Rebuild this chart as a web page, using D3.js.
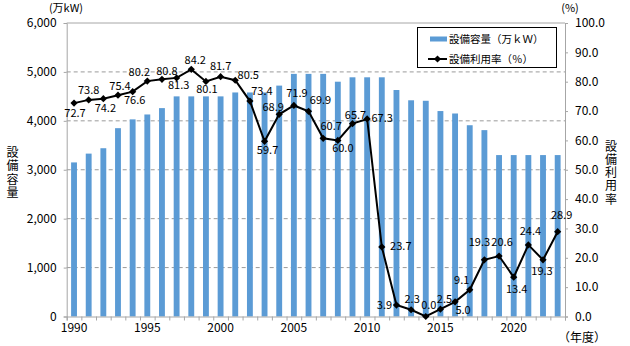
<!DOCTYPE html>
<html><head><meta charset="utf-8">
<script src="https://cdn.jsdelivr.net/npm/d3@7"></script>
<style>
body{margin:0;background:#fff;}
svg{display:block;font-family:"Noto Sans CJK JP","Noto Sans",sans-serif;}
</style></head>
<body><svg id="c" width="630" height="346"></svg>
<script>
const years = d3.range(1990, 2024);
const capacity = [3150,3330,3440,3850,4030,4130,4260,4500,4500,4500,4500,4580,4580,4580,4720,4960,4960,4960,4800,4890,4890,4890,4630,4420,4410,4200,4150,3910,3810,3300,3300,3300,3300,3300];
const rate = [72.7,73.8,74.2,75.4,76.6,80.2,80.8,81.3,84.2,80.1,81.7,80.5,73.4,59.7,68.9,71.9,69.9,60.7,60.0,65.7,67.3,23.7,3.9,2.3,0.0,2.5,5.0,9.1,19.3,20.6,13.4,24.4,19.3,28.9];
const leftTicks = [0,1000,2000,3000,4000,5000,6000];
const rightTicks = [0,10,20,30,40,50,60,70,80,90,100];
const xLabels = [1990,1995,2000,2005,2010,2015,2020];
const legendLabels = ["設備容量（万ｋＷ）","設備利用率（％）"];
const leftTitle = "設備容量";
const rightTitle = "設備利用率";
// label placement offsets (dx, dy) per point
const labelOffsets = [[1,11],[0,-9],[2,10],[2,-8],[2,9],[-8,-8],[5,-7],[2,8],[4,-8],[1,9],[0,-10],[13,-4],[12,-9],[3,10],[-6,-6],[3,-11],[12,-10],[8,-11],[5,9],[3,-8],[15,0],[19,0],[-12,1],[1,-10],[3,-10],[4,-9],[8,9],[-8,-9],[-5,-17],[3,-13],[3,13],[2,-13],[-1,12],[4,-16]];

const L = 66.7, R = 565, T = 23, B = 316.5;
const svg = d3.select("#c");
const x = d3.scaleBand().domain(years).range([L, R]).padding(0);
const xl = d3.scaleLinear().domain([1989.5, 2023.5]).range([L, R]);
const yL = d3.scaleLinear().domain([0, 6000]).range([B, T]);
const yR = d3.scaleLinear().domain([0, 100]).range([B, T]);
const gray = "#a6a6a6";

// gridlines
svg.append("g").selectAll("line").data(leftTicks.filter(d => d > 0 && d < 6000)).join("line")
  .attr("x1", L).attr("x2", R).attr("y1", d => yL(d)).attr("y2", d => yL(d))
  .attr("stroke", "#9a9a9a").attr("stroke-dasharray", "4,3").attr("stroke-width", 1);
svg.append("line").attr("x1", L).attr("x2", R).attr("y1", T).attr("y2", T).attr("stroke", gray);

// bars
const bw = x.bandwidth() * 0.4;
svg.append("g").selectAll("rect").data(years).join("rect")
  .attr("x", (d) => x(d) + (x.bandwidth() - bw) / 2)
  .attr("y", (d, i) => yL(capacity[i]))
  .attr("width", bw)
  .attr("height", (d, i) => B - yL(capacity[i]))
  .attr("fill", "#5b9bd5");

// axes
const axL = svg.append("g").attr("transform", `translate(${L},0)`)
  .call(d3.axisLeft(yL).tickValues(leftTicks).tickFormat(d3.format(",")).tickSize(3).tickPadding(7));
const axR = svg.append("g").attr("transform", `translate(${R},0)`)
  .call(d3.axisRight(yR).tickValues(rightTicks).tickFormat(d3.format(".1f")).tickSize(3).tickPadding(7));
const axB = svg.append("g").attr("transform", `translate(0,${B})`)
  .call(d3.axisBottom(xl).tickValues(d3.range(1989.5, 2024, 1)).tickFormat("").tickSize(4));
const axBL = svg.append("g").attr("transform", `translate(0,${B})`)
  .call(d3.axisBottom(x).tickValues(xLabels).tickSize(0).tickPadding(7));
axBL.select(".domain").remove();
[axL, axR, axB].forEach(a => { a.select(".domain").attr("stroke", gray); a.selectAll(".tick line").attr("stroke", gray); });
[axL, axR, axBL].forEach(a => a.selectAll("text").attr("fill", "#000").attr("font-size", 12)
  .attr("font-family", "'Noto Sans CJK JP',sans-serif"));

// line
const cx = (d, i) => x(years[i]) + x.bandwidth() / 2;
svg.append("path").datum(rate)
  .attr("d", d3.line().x((d, i) => cx(d, i)).y(d => yR(d)))
  .attr("fill", "none").attr("stroke", "#000").attr("stroke-width", 2);
const diamond = d3.symbol().type(d3.symbolSquare).size(26);
svg.append("g").selectAll("path").data(rate).join("path")
  .attr("d", diamond)
  .attr("transform", (d, i) => `translate(${cx(d, i)},${yR(d)}) rotate(45)`)
  .attr("fill", "#000");

// data labels
svg.append("g").selectAll("text").data(rate).join("text")
  .attr("x", (d, i) => cx(d, i) + labelOffsets[i][0])
  .attr("y", (d, i) => yR(d) + labelOffsets[i][1])
  .attr("text-anchor", "middle").attr("dominant-baseline", "middle")
  .attr("font-size", 11).attr("fill", "#000")
  .text(d => d3.format(".1f")(d));

// unit labels
svg.append("text").attr("x", 66).attr("y", 12).attr("text-anchor", "middle")
  .attr("font-size", 11).text("(万kW)");
svg.append("text").attr("x", 570).attr("y", 12).attr("text-anchor", "middle")
  .attr("font-size", 11).text("(%)");
svg.append("text").attr("x", 582).attr("y", 342).attr("text-anchor", "middle")
  .attr("font-size", 12).text("（年度）");

// vertical titles
const vt = (str, xPos, yTop) => {
  svg.append("text").attr("x", xPos).attr("y", yTop)
    .attr("writing-mode", "vertical-rl").style("writing-mode", "vertical-rl")
    .attr("text-anchor", "start").attr("font-size", 12).attr("letter-spacing", 1.3)
    .text(str);
};
vt(leftTitle, 12.5, 146.5);
vt(rightTitle, 611, 140);

// legend
const lg = svg.append("g");
lg.append("rect").attr("x", 417.5).attr("y", 27.5).attr("width", 139).attr("height", 40)
  .attr("fill", "#fff").attr("stroke", "#000").attr("stroke-width", 1);
lg.append("rect").attr("x", 430).attr("y", 36.5).attr("width", 17).attr("height", 5).attr("fill", "#5b9bd5");
lg.append("line").attr("x1", 428).attr("x2", 447).attr("y1", 59).attr("y2", 59).attr("stroke", "#000").attr("stroke-width", 2);
lg.append("path").attr("d", diamond).attr("transform", "translate(437.5,59) rotate(45)").attr("fill", "#000");
lg.selectAll("text.lt").data(legendLabels).join("text").attr("class", "lt")
  .attr("x", 449).attr("y", (d, i) => i === 0 ? 42.5 : 63)
  .attr("font-size", 10.5).text(d => d);
</script></body></html>
